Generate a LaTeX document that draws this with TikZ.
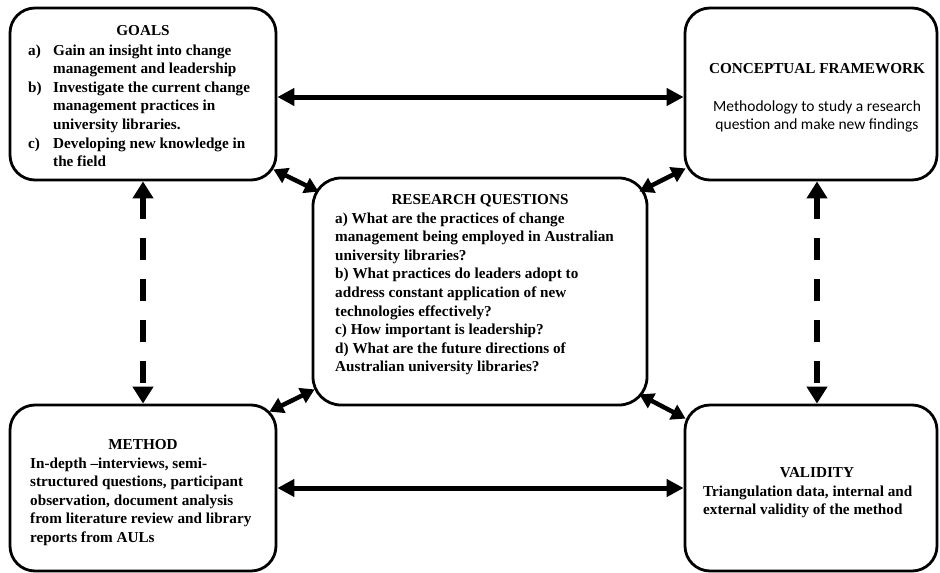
\documentclass[tikz,border=0pt]{standalone}
\usepackage{fontspec}
\setmainfont{Liberation Serif}
\newfontfamily\cfont{Carlito}
\usetikzlibrary{arrows.meta,calc}

\begin{document}
\begin{tikzpicture}[x=1pt,y=-1pt,
  box/.style={draw, line width=2.8pt, rounded corners=25pt, inner sep=0pt},
  txt/.style={inner sep=0pt, font=\fontsize{15.2}{18.6}\selectfont\bfseries},
  ttl/.style={txt, anchor=base},
  body/.style={txt, anchor=base west},
  sanstxt/.style={inner sep=0pt, anchor=base, font=\cfont\fontsize{15.5}{18}\selectfont},
  solidarrow/.style={line width=5pt, {Triangle[length=17pt,width=17pt]}-{Triangle[length=17pt,width=17pt]}},
  diagarrow/.style={line width=4.5pt, {Triangle[length=14pt,width=16pt]}-{Triangle[length=14pt,width=16pt]}},
  dasharrow/.style={line width=6.5pt, dash pattern=on 22pt off 19pt, {Triangle[length=17pt,width=20pt]}-{Triangle[length=17pt,width=20pt]}}
]
\useasboundingbox (0,0) rectangle (940,573);

% boxes
\node[box, minimum width=266pt, minimum height=172pt] (goals) at (143,94) {};
\node[box, minimum width=252pt, minimum height=172pt] (cf) at (811,94) {};
\node[box, rounded corners=28pt, minimum width=334pt, minimum height=227pt] (rq) at (480,291.5) {};
\node[box, minimum width=266pt, minimum height=166pt] (method) at (143,488) {};
\node[box, minimum width=252pt, minimum height=166pt] (validity) at (811,488) {};

% goals
\node[ttl] (goalsTitle) at (143,35) {GOALS};
\node[body] (goalsBody) at (28,55) {\begin{tabular}[t]{@{}p{25pt}@{}l@{}}
a) & Gain an insight into change\\
   & management and leadership\\
b) & Investigate the current change\\
   & management practices in\\
   & university libraries.\\
c) & Developing new knowledge in\\
   & the field
\end{tabular}};

% conceptual framework
\node[ttl] (cfTitle) at (817,73) {CONCEPTUAL FRAMEWORK};
\node[sanstxt] (cfBody) at (817,111) {\begin{tabular}[t]{@{}c@{}}
Methodology to study a research\\
question and make new findings
\end{tabular}};

% research questions
\node[ttl] (rqTitle) at (480,204) {RESEARCH QUESTIONS};
\node[body] (rqBody) at (335,223) {\begin{tabular}[t]{@{}l@{}}
a) What are the practices of change\\
management being employed in Australian\\
university libraries?\\
b) What practices do leaders adopt to\\
address constant application of new\\
technologies effectively?\\
c) How important is leadership?\\
d) What are the future directions of\\
Australian university libraries?
\end{tabular}};

% method
\node[ttl] (methodTitle) at (143,449) {METHOD};
\node[body] (methodBody) at (30,468) {\begin{tabular}[t]{@{}l@{}}
In-depth --interviews, semi-\\
structured questions, participant\\
observation, document analysis\\
from literature review and library\\
reports from AULs
\end{tabular}};

% validity
\node[ttl] (validityTitle) at (817,477) {VALIDITY};
\node[body] (validityBody) at (703,496) {\begin{tabular}[t]{@{}l@{}}
Triangulation data, internal and\\
external validity of the method
\end{tabular}};

% horizontal links
\draw[solidarrow] ($(goals.east)+(0,3)$) -- ($(cf.west)+(0,3)$);
\draw[solidarrow] (method.east) -- (validity.west);

% vertical dashed links
\draw[dasharrow] (goals.south) -- (method.north);
\draw[dasharrow] ($(cf.south)+(6,0)$) -- ($(validity.north)+(6,0)$);

% diagonal links to the research questions
\draw[diagarrow] ($(goals.south east)+(-4,-12)$) -- ($(rq.north west)+(7,15)$);
\draw[diagarrow] ($(cf.south west)+(2,-13)$) -- ($(rq.north east)+(-9,15)$);
\draw[diagarrow] ($(rq.south west)+(3,-17)$) -- ($(method.north east)+(-8,8)$);
\draw[diagarrow] ($(rq.south east)+(-9,-12)$) -- ($(validity.north west)+(2,15)$);
\end{tikzpicture}
\end{document}
